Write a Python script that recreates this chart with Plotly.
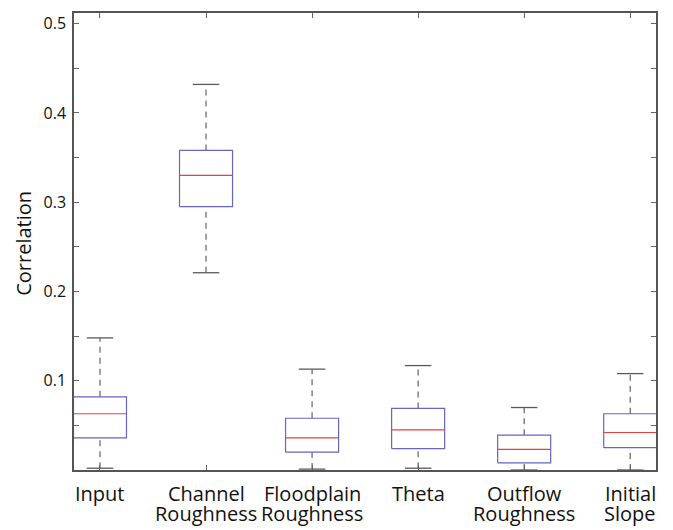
import plotly.graph_objects as go

# ---- data ----
line1 = ["Input", "Channel", "Floodplain", "Theta", "Outflow", "Initial"]
line2 = ["", "Roughness", "Roughness", "", "Roughness", "Slope"]
positions = [1, 2, 3, 4, 5, 6]
lower = [0.002, 0.221, 0.001, 0.002, 0.0, 0.0]
q1 = [0.036, 0.295, 0.020, 0.024, 0.008, 0.025]
median = [0.063, 0.330, 0.036, 0.045, 0.023, 0.042]
q3 = [0.082, 0.358, 0.058, 0.069, 0.039, 0.063]
upper = [0.148, 0.432, 0.113, 0.117, 0.070, 0.108]
y_ticks = [0.1, 0.2, 0.3, 0.4, 0.5]
y_minor = [0.05, 0.15, 0.25, 0.35, 0.45]

BOX_HALF = 0.25
CAP_HALF = 0.125

wx, wy, cx, cy, bx, by, mx, my = [], [], [], [], [], [], [], []
for p, lo, a, m, b, hi in zip(positions, lower, q1, median, q3, upper):
    wx += [p, p, None, p, p, None]
    wy += [b, hi, None, lo, a, None]
    cx += [p - CAP_HALF, p + CAP_HALF, None, p - CAP_HALF, p + CAP_HALF, None]
    cy += [hi, hi, None, lo, lo, None]
    bx += [p - BOX_HALF, p + BOX_HALF, p + BOX_HALF, p - BOX_HALF, p - BOX_HALF, None]
    by += [a, a, b, b, a, None]
    mx += [p - BOX_HALF, p + BOX_HALF, None]
    my += [m, m, None]

fig = go.Figure()
fig.add_trace(go.Scatter(x=wx, y=wy, mode="lines",
                         line=dict(color="#6e6e6e", width=1.3, dash="6px,5px"),
                         hoverinfo="skip", showlegend=False))
fig.add_trace(go.Scatter(x=cx, y=cy, mode="lines",
                         line=dict(color="#5a5a5a", width=1.3),
                         hoverinfo="skip", showlegend=False))
fig.add_trace(go.Scatter(x=bx, y=by, mode="lines",
                         line=dict(color="#6565c4", width=1.2),
                         hoverinfo="skip", showlegend=False))
fig.add_trace(go.Scatter(x=mx, y=my, mode="lines",
                         line=dict(color="#e8403c", width=1.2),
                         hoverinfo="skip", showlegend=False))

FONT = "Open Sans"
annotations = []
for p, t1, t2 in zip(positions, line1, line2):
    annotations.append(dict(x=p, xref="x", y=0, yref="paper", yanchor="top",
                            xanchor="center", yshift=-9, text=t1, showarrow=False,
                            borderpad=0,
                            font=dict(family=FONT, size=20, color="#111111")))
    if t2:
        annotations.append(dict(x=p, xref="x", y=0, yref="paper", yanchor="top",
                                xanchor="center", yshift=-29, text=t2, showarrow=False,
                                borderpad=0,
                                font=dict(family=FONT, size=20, color="#111111")))
annotations.append(dict(x=0, xref="paper", xshift=-50, y=0.495, yref="paper",
                        xanchor="center", yanchor="middle", textangle=-90,
                        text="Correlation", showarrow=False,
                        font=dict(family=FONT, size=20, color="#111111")))

fig.update_layout(
    width=673, height=530,
    margin=dict(l=74, r=17, t=11, b=60, pad=0),
    paper_bgcolor="white", plot_bgcolor="white",
    annotations=annotations,
    font=dict(family=FONT, color="#111111"),
)
fig.update_xaxes(range=[0.755, 6.243], tickvals=positions, showticklabels=False,
                 ticks="inside", ticklen=5, tickcolor="#666666", tickwidth=1.2,
                 showline=True, linecolor="#555555", linewidth=1.5, mirror="ticks",
                 showgrid=False, zeroline=False)
fig.update_yaxes(range=[0, 0.512], tickvals=y_ticks, ticktext=[f"{v:.1f}" for v in y_ticks],
                 ticks="inside", ticklen=5, tickcolor="#666666", tickwidth=1.2,
                 minor=dict(tickvals=y_minor, ticks="inside", ticklen=5,
                            tickcolor="#666666", tickwidth=1.2),
                 tickfont=dict(family=FONT, size=16, color="#111111"),
                 ticklabelstandoff=3,
                 showline=True, linecolor="#555555", linewidth=1.5, mirror="ticks",
                 showgrid=False, zeroline=False)

fig.write_html("out.html", config={"displayModeBar": False},
               post_script="document.body.style.margin='0px';")
